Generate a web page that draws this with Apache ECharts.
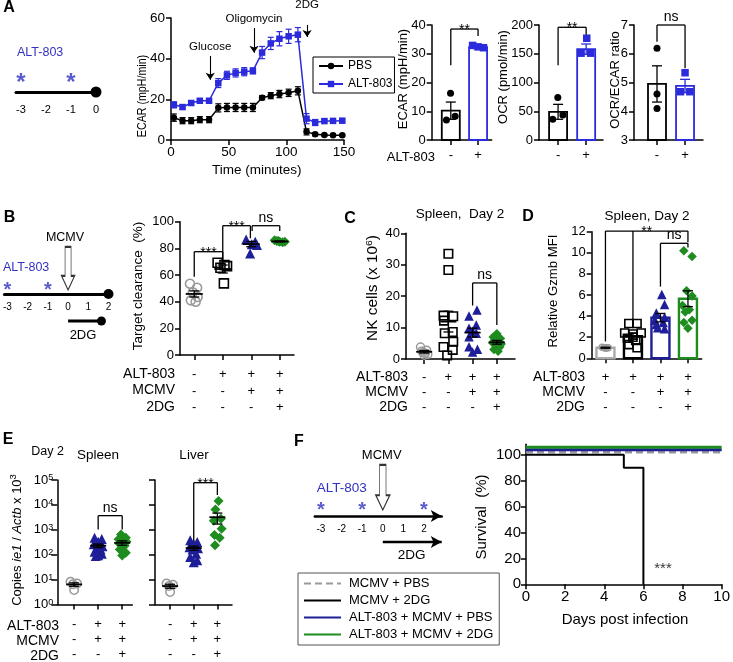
<!DOCTYPE html>
<html><head><meta charset="utf-8"><title>Figure</title>
<script src="https://cdn.jsdelivr.net/npm/echarts@6.0.0/dist/echarts.min.js"></script>
<style>html,body{margin:0;padding:0;background:#fff;}#chart{width:733px;height:662px;}</style>
</head><body><div id="chart"></div>
<script>
// ======================= DATA =======================
// Panel A – dosing schedule
const aScheduleTicks = [-3, -2, -1, 0];
const aDoseDays = [-3, -1];
const aHarvestDay = [0];

// Panel A – ECAR kinetics
const aTime   = [2.5,10,17.5,25,33,41,48.5,56,63.5,71,79,86.5,94,102,110,117.5,125,133,140.5,148.5];
const aPbs    = [11,9.5,9.5,10,10,15.8,16,16,16,16,20.8,21.8,22.6,23.2,24.2,4,2.8,2.4,2.3,2.3];
const aPbsErr = [1.8,1.5,1.5,1.5,1.5,2,2,2,2,2,1,1.5,1.8,1.8,2,1.5,0.8,0.5,0.5,0.5];
const aAlt    = [17.3,16.2,18.2,19.3,19.3,28,31.8,33,33.6,34,43,47.5,49.8,51,51.8,10.5,8.6,9.3,9.4,9.5];
const aAltErr = [1.5,1,1,0.8,0.8,2.2,2,2,2,1.5,3,3,3.5,3.5,3.5,2.5,1.5,1,0.8,0.8];
const aInjName = ['Glucose', 'Oligomycin', '2DG'];
const aInjTime = [34, 72, 118];
const aInjFrom = [41.3, 55.1, 56.6];
const aInjTo   = [29.6, 42.9, 50.7];

// Panel A – endpoint bars
const aGroupX = [1, 2];
const aSign = ['-', '+'];
const ecarMean = [10.2, 32.3], ecarSem = [3.0, 0.5];
const ecarPbsX = [0.99, 0.84, 1.16], ecarPbsY = [16.3, 7.0, 8.3];
const ecarAltX = [1.8, 2.0, 2.2],   ecarAltY = [32.9, 32.4, 32.1];
const ocrMean = [49, 158], ocrSem = [13, 9];
const ocrPbsX = [0.99, 0.81, 1.17], ocrPbsY = [74, 36, 43.5];
const ocrAltX = [2.02, 1.82, 2.16], ocrAltY = [177, 151, 151];
const ratioMean = [4.95, 4.88], ratioSem = [0.63, 0.23];
const ratioPbsX = [1, 1, 1],        ratioPbsY = [6.19, 4.6, 4.1];
const ratioAltX = [2.0, 1.84, 2.17], ratioAltY = [5.34, 4.68, 4.68];
const ecarBrackets  = [{legs: [[1, 26], [2, 36.2]], top: 38.6, text: '**'}];
const ocrBrackets   = [{legs: [[1, 130], [2, 183]], top: 196, text: '**'}];
const ratioBrackets = [{legs: [[1, 6.42], [2, 5.5]], top: 7.0, text: 'ns'}];

// Panel B – schedule
const bScheduleTicks = [-3, -2, -1, 0, 1, 2];
const bDoseDays = [-3, -1];
const bInfectDay = [0];
const bEndDay = [2];
const b2dgDays = [0, 1.65];

// Panel B – target clearance
const bAlt = ['-', '+', '+', '+'], bMcmv = ['-', '-', '+', '+'], b2dg = ['-', '-', '-', '+'];
const bGroupX = [1, 2, 3, 4];
const bPbsX = [0.85, 1.1, 0.95, 1.12, 0.88, 1.05], bPbsY = [53.5, 50.5, 47, 43.5, 41, 40];
const bAltX = [1.82, 2.06, 2.15, 1.92, 2.04],      bAltY = [69.2, 67.5, 66.7, 65.5, 53.7];
const bMcmvX = [2.82, 3.14, 3.02, 2.96, 3.2],      bMcmvY = [86.7, 85, 83, 76.2, 82.5];
const b2dgX = [3.82, 3.9, 4.0, 4.1, 4.18, 3.95],   b2dgY = [86, 85.5, 85, 84.5, 85, 85.5];
const bMean = [45.8, 64.5, 83.2, 85.2], bSem = [2.3, 3.0, 2.0, 0.4];
const bBrackets = [
  {legs: [[1, 58.7], [2, 66.7]], top: 77.5, text: '***'},
  {legs: [[2, 70], [2.97, 87.5]], top: 97, text: '***'},
  {legs: [[3.03, 93], [4, 93]], top: 97, text: 'ns'}
];

// Panel C – NK cells
const cAlt = ['-', '+', '+', '+'], cMcmv = ['-', '-', '+', '+'], c2dg = ['-', '-', '-', '+'];
const cGroupX = [1, 2, 3, 4];
const cPbsX = [0.85, 1.1, 0.95, 1.15, 1.0, 0.9, 1.05], cPbsY = [3.8, 2.8, 2.0, 1.5, 1.2, 2.5, 1.8];
const cAltX = [2.0, 2.0, 1.8, 2.2, 1.82, 2.18, 1.85, 2.2, 1.8, 2.18, 1.95];
const cAltY = [33.5, 28.3, 13.8, 13.6, 12.2, 8.6, 8.2, 5.5, 3.8, 2.9, 1.1];
const cMcmvX = [3.18, 2.85, 3.15, 2.85, 3.0, 3.15, 2.85, 2.85, 3.2, 3.0];
const cMcmvY = [15.6, 13.7, 10.8, 9.8, 8.8, 8.2, 7.1, 3.9, 3.1, 2.2];
const c2dgX = [4.0, 3.85, 4.15, 3.9, 4.1, 3.82, 4.18, 3.95, 4.12, 3.88, 4.05];
const c2dgY = [8.0, 7.0, 6.5, 6.0, 5.6, 5.2, 4.8, 4.5, 3.8, 3.0, 2.5];
const cMean = [2.3, 11.9, 8.4, 5.3], cSem = [0.4, 3.3, 1.4, 0.6];
const cBrackets = [{legs: [[3, 17], [4, 10.8]], top: 24.2, text: 'ns'}];

// Panel D – Gzmb MFI
const dAlt = ['+', '+', '+', '+'], dMcmv = ['-', '-', '+', '+'], d2dg = ['-', '-', '-', '+'];
const dGroupX = [1, 2, 3, 4];
const dMean = [1.0, 2.1, 3.85, 5.65], dSem = [0.05, 0.3, 0.4, 0.75];
const dPbsX = [0.88, 0.95, 1.02, 1.1, 1.0], dPbsY = [1.05, 1.0, 0.95, 1.0, 1.02];
const dAltX = [1.85, 2.15, 1.7, 2.0, 2.3, 1.8, 2.1, 1.85, 2.15, 2.0];
const dAltY = [3.3, 3.3, 2.4, 2.3, 2.4, 1.9, 1.7, 1.3, 1.0, 2.0];
const dMcmvX = [3.05, 3.15, 2.85, 3.15, 2.8, 3.1, 2.85, 2.9, 3.15];
const dMcmvY = [6.05, 5.1, 4.3, 3.9, 3.6, 3.4, 3.2, 2.9, 2.8];
const d2dgX = [3.85, 4.15, 3.95, 4.15, 3.8, 4.05, 3.9, 4.15, 3.85, 4.0];
const d2dgY = [10.2, 9.65, 6.4, 5.9, 5.0, 4.6, 4.4, 3.6, 3.4, 2.85];
const dBrackets = [
  {legs: [[1, 1.6], [2, 3.6], [4, 11.0]], top: 12.06, text: '**', tx: 2.5},
  {legs: [[3, 6.8], [4, 10.5]], top: 10.9, text: 'ns'}
];

// Panel E – viral load (log)
const eAlt = ['-', '+', '+'], eMcmv = ['-', '+', '+'], e2dg = ['-', '-', '+'];
const eGroupX = [1, 2, 3];
const eDecades = [1, 10, 100, 1000, 10000, 100000];
const esPbsX = [0.85, 1.12, 0.95, 1.0],  esPbsY = [8.2, 7.0, 6.5, 3.8];
const esAltX = [1.85, 2.15, 2.0, 1.82, 2.18, 1.95, 2.1, 1.85, 2.15, 2.0, 1.9];
const esAltY = [480, 430, 330, 260, 220, 190, 160, 130, 110, 95, 88];
const es2dgX = [2.95, 3.15, 2.85, 3.18, 2.88, 3.1, 2.9, 3.15, 3.0];
const es2dgY = [650, 480, 420, 330, 280, 230, 160, 120, 92];
const esMean = [6.4, 230, 300], esSem = [1.0, 38, 60];
const esBrackets = [{legs: [[2, 1040], [3, 1040]], top: 3700, text: 'ns'}];
const elPbsX = [0.85, 1.12, 0.95, 1.0], elPbsY = [7.0, 6.2, 5.5, 3.2];
const elAltX = [1.85, 2.15, 2.0, 1.82, 2.18, 1.95, 2.1, 1.85, 2.15, 2.0];
const elAltY = [380, 320, 260, 200, 180, 160, 110, 80, 60, 50];
const el2dgX = [3.05, 2.92, 3.15, 2.85, 3.18, 2.88, 3.1, 2.9];
const el2dgY = [14500, 6500, 2800, 2300, 1100, 620, 480, 240];
const elMean = [5.5, 185, 3200], elSem = [1.0, 35, 1500];
const elBrackets = [{legs: [[2, 355], [3, 25000]], top: 78000, text: '***'}];

// Panel F – schedule
const fScheduleTicks = [-3, -2, -1, 0, 1, 2];
const fDoseDays = [-3, -1, 2];
const fInfectDay = [0];
const f2dgDays = [0, 2.86];

// Panel F – survival (curves drawn offset above 100 % as in the figure)
const fNames = ['MCMV + PBS', 'MCMV + 2DG', 'ALT-803 + MCMV + PBS', 'ALT-803 + MCMV + 2DG'];
const fPbsDays = [0, 10],        fPbsSurv = [101.8, 101.8];
const f2dgDaysS = [0, 5, 6],     f2dgSurv = [100, 90, 0];
const fAltPbsDays = [0, 10],     fAltPbsSurv = [103.8, 103.8];
const fAlt2dgDays = [0, 10],     fAlt2dgSurv = [105.8, 105.8];
const fSurvTicks = [0, 20, 40, 60, 80, 100];

// ======================= BUILD =======================
const FONT = "'Liberation Sans', Arial, Helvetica, sans-serif";
const BLACK = '#000', GREY = '#9a9a9a', NAVY = '#1e1e98', GREEN = '#1f8c1f', BLUE = '#2b2bdc', TLBLUE = '#3232c2';
const chart = echarts.init(document.getElementById('chart'), null, {renderer: 'canvas', width: 733, height: 662});

function merge(a, b) {
  for (const k in b) {
    const v = b[k];
    if (v && typeof v === 'object' && !Array.isArray(v) && typeof v !== 'function' && a[k] && typeof a[k] === 'object' && !Array.isArray(a[k])) merge(a[k], v);
    else a[k] = v;
  }
  return a;
}
const grid = [], xAxis = [], yAxis = [], series = [], graphic = [];
function axisBase(gi) {
  return {gridIndex: gi, type: 'value', splitLine: {show: false}, axisPointer: {show: false},
    axisLine: {show: true, onZero: false, lineStyle: {color: BLACK, width: 1.5}},
    axisTick: {show: true, inside: false, length: 5, lineStyle: {color: BLACK, width: 1.5}},
    axisLabel: {show: true, color: BLACK, fontSize: 13, fontFamily: FONT, margin: 6}};
}
function panel(box, xo, yo) {
  const gi = grid.length;
  grid.push({left: box[0], top: box[1], width: box[2], height: box[3], containLabel: false});
  xAxis.push(merge(axisBase(gi), xo));
  yAxis.push(merge(axisBase(gi), yo));
  return gi;
}
function signAxis(min, max, rows, margin, lh) {
  const vals = rows[0].map((_, i) => i + 1);
  return {min, max, axisTick: {customValues: vals},
    axisLabel: {customValues: vals, margin, lineHeight: lh, fontSize: 13,
      formatter: v => rows.map(r => r[Math.round(v) - 1]).join('\n')}};
}
function dots(gi, xs, ys, symbol, size, fill, stroke, bw) {
  series.push({type: 'scatter', xAxisIndex: gi, yAxisIndex: gi, symbol, symbolSize: size, clip: false, silent: true, z: 3,
    itemStyle: {color: fill, borderColor: stroke, borderWidth: bw, opacity: 1},
    data: xs.map((x, i) => [x, ys[i]])});
}
function errBars(gi, xs, means, sems, colors, meanHalf, capHalf, lw) {
  series.push({type: 'custom', xAxisIndex: gi, yAxisIndex: gi, clip: false, silent: true, z: 5,
    data: xs.map((x, i) => [x, means[i], means[i] - sems[i], means[i] + sems[i]]),
    renderItem: (p, api) => {
      const x = api.value(0);
      const pm = api.coord([x, api.value(1)]), pl = api.coord([x, api.value(2)]), ph = api.coord([x, api.value(3)]);
      const st = {stroke: Array.isArray(colors) ? colors[p.dataIndex] : colors, lineWidth: lw};
      const ch = [
        {type: 'line', shape: {x1: pm[0], y1: pl[1], x2: pm[0], y2: ph[1]}, style: st},
        {type: 'line', shape: {x1: pm[0] - capHalf, y1: pl[1], x2: pm[0] + capHalf, y2: pl[1]}, style: st},
        {type: 'line', shape: {x1: pm[0] - capHalf, y1: ph[1], x2: pm[0] + capHalf, y2: ph[1]}, style: st}];
      if (meanHalf) ch.push({type: 'line', shape: {x1: pm[0] - meanHalf, y1: pm[1], x2: pm[0] + meanHalf, y2: pm[1]}, style: {stroke: st.stroke, lineWidth: lw + 0.5}});
      return {type: 'group', children: ch};
    }});
}
function bars(gi, xs, vals, base, colors, halfW, lw) {
  series.push({type: 'custom', xAxisIndex: gi, yAxisIndex: gi, clip: false, silent: true, z: 2,
    data: xs.map((x, i) => [x, vals[i]]),
    renderItem: (p, api) => {
      const t = api.coord([api.value(0), api.value(1)]), b = api.coord([api.value(0), base]);
      return {type: 'rect', shape: {x: t[0] - halfW, y: t[1], width: 2 * halfW, height: b[1] - t[1]},
        style: {fill: 'rgba(255,255,255,0)', stroke: colors[p.dataIndex], lineWidth: lw}};
    }});
}
function brackets(gi, defs, fs) {
  series.push({type: 'custom', xAxisIndex: gi, yAxisIndex: gi, clip: false, silent: true, z: 6,
    data: defs.map(d => [d.legs[0][0], d.top]),
    renderItem: (p, api) => {
      const d = defs[p.dataIndex];
      const pts = d.legs.map(l => api.coord(l));
      const topY = api.coord([d.legs[0][0], d.top])[1];
      const st = {stroke: BLACK, lineWidth: 1.3};
      const ch = [{type: 'line', shape: {x1: pts[0][0], y1: topY, x2: pts[pts.length - 1][0], y2: topY}, style: st}];
      pts.forEach(pt => ch.push({type: 'line', shape: {x1: pt[0], y1: topY, x2: pt[0], y2: pt[1]}, style: st}));
      const tx = d.tx != null ? api.coord([d.tx, d.top])[0] : (pts[0][0] + pts[pts.length - 1][0]) / 2;
      const star = d.text.indexOf('*') >= 0;
      ch.push({type: 'text', x: tx, y: star ? topY + 1 : topY - 1,
        style: {text: d.text, fill: BLACK, fontSize: fs, fontFamily: FONT, align: 'center', verticalAlign: star ? 'middle' : 'bottom'}});
      return {type: 'group', children: ch};
    }});
}
function stars(gi, xs, y, size, color) {
  series.push({type: 'scatter', xAxisIndex: gi, yAxisIndex: gi, symbolSize: 1, clip: false, silent: true, z: 4,
    itemStyle: {color: 'rgba(0,0,0,0)'},
    label: {show: true, position: 'inside', formatter: '*', fontSize: size, fontWeight: 'bold', color, fontFamily: FONT},
    data: xs.map(x => [x, y])});
}
function note(gi, x, y, text, fs) {
  series.push({type: 'scatter', xAxisIndex: gi, yAxisIndex: gi, symbolSize: 1, clip: false, silent: true, z: 4,
    itemStyle: {color: 'rgba(0,0,0,0)'},
    label: {show: true, position: 'inside', formatter: text, fontSize: fs, color: BLACK, fontFamily: FONT},
    data: [[x, y]]});
}
const ARROW = 'path://M3.5,0L9.5,0L9.5,29L13,29L6.5,43L0,29L3.5,29Z';
function hollowArrow(gi, xs, y, size) {
  series.push({type: 'scatter', xAxisIndex: gi, yAxisIndex: gi, symbol: ARROW, symbolSize: size, clip: false, silent: true, z: 4,
    itemStyle: {color: '#fff', borderColor: BLACK, borderWidth: 1.2}, data: xs.map(x => [x, y])});
}
function txt(text, x, y, o) {
  graphic.push(merge({type: 'text', x, y, silent: true, z: 10,
    style: {text, fill: BLACK, fontSize: 13, fontFamily: FONT, align: 'center', verticalAlign: 'middle'}}, o || {}));
}
function vtxt(text, x, y, fs, sx, rich) {
  const st = {text, fill: BLACK, fontSize: fs, fontFamily: FONT, align: 'center', verticalAlign: 'middle'};
  if (rich) st.rich = rich;
  graphic.push({type: 'text', x, y, rotation: Math.PI / 2, scaleX: sx || 1, silent: true, z: 10, style: st});
}
// schedule panels: axis line at the grid bottom (value 0); items below it use negative values
const timelineY = {min: 0, max: 1, show: false, axisLine: {show: false}, axisTick: {show: false}, axisLabel: {show: false}};

// ---------- Panel A: schedule ----------
const gA0 = panel([16, 62, 80, 30],
  {min: -3.2, max: 0, axisLine: {lineStyle: {width: 3}}, axisTick: {show: false},
   axisLabel: {customValues: aScheduleTicks, fontSize: 11, margin: 12}}, timelineY);
stars(gA0, aDoseDays, 0.3, 24, TLBLUE);
dots(gA0, aHarvestDay, [0], 'circle', 11, BLACK, BLACK, 0);

// ---------- Panel A: ECAR kinetics ----------
const gA1 = panel([171, 18, 173, 122],
  {min: 0, max: 150, interval: 50, axisLabel: {fontSize: 13.5, margin: 5}},
  {min: 0, max: 60, interval: 20, axisLabel: {fontSize: 13.5, margin: 6}});
errBars(gA1, aTime, aPbs, aPbsErr, BLACK, 0, 3, 1.2);
errBars(gA1, aTime, aAlt, aAltErr, BLUE, 0, 3, 1.2);
series.push({type: 'line', name: 'PBS', xAxisIndex: gA1, yAxisIndex: gA1, symbol: 'circle', symbolSize: 6.5, z: 4,
  lineStyle: {color: BLACK, width: 1.5}, itemStyle: {color: BLACK},
  data: aTime.map((t, i) => [t, aPbs[i]]),
  markLine: {silent: true, animation: false, symbol: ['none', 'arrow'], symbolSize: 7, precision: 2,
    lineStyle: {color: BLACK, width: 1.1, type: 'solid'},
    label: {show: true, position: 'start', formatter: '{b}', fontSize: 11.5, color: BLACK, fontFamily: FONT, distance: 3},
    data: aInjName.map((n, i) => [{name: n, coord: [aInjTime[i], aInjFrom[i]], label: {distance: i === 2 ? 14 : 3}}, {coord: [aInjTime[i], aInjTo[i]]}])}});
series.push({type: 'line', name: 'ALT-803', xAxisIndex: gA1, yAxisIndex: gA1, symbol: 'rect', symbolSize: 6.5, z: 4,
  lineStyle: {color: BLUE, width: 1.5}, itemStyle: {color: BLUE},
  data: aTime.map((t, i) => [t, aAlt[i]])});

// ---------- Panel A: bars ----------
function aBarPanel(box, xmin, xmax, ymin, ymax, yint, mean, sem, px, py, qx, qy, br) {
  const g = panel(box,
    {min: xmin, max: xmax, axisTick: {customValues: aGroupX},
     axisLabel: {customValues: aGroupX, margin: 9, formatter: v => aSign[Math.round(v) - 1]}},
    {min: ymin, max: ymax, interval: yint, axisLabel: {margin: 6}});
  bars(g, aGroupX, mean, ymin, [BLACK, BLUE], 9, 1.8);
  dots(g, px, py, 'circle', 7, BLACK, BLACK, 0);
  dots(g, qx, qy, 'rect', 7.5, BLUE, BLUE, 0);
  errBars(g, aGroupX, mean, sem, [BLACK, BLUE], 0, 5, 1.3);
  brackets(g, br, 14);
  return g;
}
aBarPanel([431.7, 25, 60, 115], 0.3, 2.5, 0, 40, 10, ecarMean, ecarSem, ecarPbsX, ecarPbsY, ecarAltX, ecarAltY, ecarBrackets);
aBarPanel([539, 25, 64, 115], 0.32, 2.6, 0, 200, 50, ocrMean, ocrSem, ocrPbsX, ocrPbsY, ocrAltX, ocrAltY, ocrBrackets);
aBarPanel([634, 25, 69, 115], 0.18, 2.64, 3, 7, 1, ratioMean, ratioSem, ratioPbsX, ratioPbsY, ratioAltX, ratioAltY, ratioBrackets);

// ---------- Panel B: schedule ----------
const gB0 = panel([3, 267, 105.5, 27],
  {min: -3.15, max: 2, axisLine: {lineStyle: {width: 3}}, axisTick: {show: false},
   axisLabel: {customValues: bScheduleTicks, fontSize: 10, margin: 8}}, timelineY);
stars(gB0, bDoseDays, 0.12, 20, TLBLUE);
dots(gB0, bEndDay, [0], 'circle', 10, BLACK, BLACK, 0);
hollowArrow(gB0, bInfectDay, 0.95, [13, 43]);
series.push({type: 'line', xAxisIndex: gB0, yAxisIndex: gB0, silent: true, clip: false, z: 3, lineStyle: {color: BLACK, width: 3},
  itemStyle: {color: BLACK}, symbol: 'circle', symbolSize: 9,
  data: [{value: [b2dgDays[0], -1], symbol: 'none'}, {value: [b2dgDays[1], -1]}]});

// ---------- Panel B: target clearance ----------
const gB1 = panel([180, 221.7, 114, 133.3], signAxis(0.5, 4.5, [bAlt, bMcmv, b2dg], 11.5, 16.5),
  {min: 0, max: 100, interval: 20});
dots(gB1, bPbsX, bPbsY, 'circle', 9, 'rgba(0,0,0,0)', GREY, 1.6);
dots(gB1, bAltX, bAltY, 'rect', 9, 'rgba(0,0,0,0)', BLACK, 1.6);
dots(gB1, bMcmvX, bMcmvY, 'triangle', 10, NAVY, NAVY, 0);
dots(gB1, b2dgX, b2dgY, 'diamond', 10, GREEN, GREEN, 0);
errBars(gB1, bGroupX, bMean, bSem, BLACK, 8.5, 5, 1.3);
brackets(gB1, bBrackets, 14);

// ---------- Panel C ----------
const gC = panel([406, 233.3, 109, 125.7], signAxis(0.25, 4.75, [cAlt, cMcmv, c2dg], 11, 15),
  {min: 0, max: 40, interval: 10});
dots(gC, cPbsX, cPbsY, 'circle', 8, 'rgba(0,0,0,0)', GREY, 1.5);
dots(gC, cAltX, cAltY, 'rect', 8.5, 'rgba(0,0,0,0)', BLACK, 1.6);
dots(gC, cMcmvX, cMcmvY, 'triangle', 9.5, NAVY, NAVY, 0);
dots(gC, c2dgX, c2dgY, 'diamond', 9.5, GREEN, GREEN, 0);
errBars(gC, cGroupX, cMean, cSem, BLACK, 8, 5, 1.3);
brackets(gC, cBrackets, 14);

// ---------- Panel D ----------
const gD = panel([591.7, 231.7, 110, 126.6], signAxis(0.5, 4.5, [dAlt, dMcmv, d2dg], 11.5, 15),
  {min: 0, max: 12, interval: 2});
bars(gD, dGroupX, dMean, 0, ['#aaaaaa', BLACK, NAVY, GREEN], 9, 2.4);
dots(gD, dPbsX, dPbsY, 'circle', 6, 'rgba(0,0,0,0)', GREY, 1.3);
dots(gD, dAltX, dAltY, 'rect', 8, 'rgba(0,0,0,0)', BLACK, 1.6);
dots(gD, dMcmvX, dMcmvY, 'triangle', 9.5, NAVY, NAVY, 0);
dots(gD, d2dgX, d2dgY, 'diamond', 9.5, GREEN, GREEN, 0);
errBars(gD, dGroupX, dMean, dSem, BLACK, 0, 5, 1.3);
brackets(gD, dBrackets, 14);

// ---------- Panel E ----------
function logY(showLabels) {
  return {type: 'log', logBase: 10, min: 1, max: 100000,
    axisTick: {customValues: eDecades, length: 6},
    axisLabel: {show: showLabels, customValues: eDecades, margin: 4,
      formatter: v => '{b|10}{s|' + Math.round(Math.log10(v)) + '}',
      rich: {b: {fontSize: 13, fontFamily: FONT, color: BLACK}, s: {fontSize: 9, fontFamily: FONT, color: BLACK, verticalAlign: 'top'}}}};
}
function ePanel(box, xmin, xmax, showLabels, px, py, ax, ay, gx, gy, mean, sem, br) {
  const g = panel(box, signAxis(xmin, xmax, [eAlt, eMcmv, e2dg], 12.5, 15), logY(showLabels));
  dots(g, px, py, 'circle', 8.5, 'rgba(0,0,0,0)', GREY, 1.5);
  dots(g, ax, ay, 'triangle', 10, NAVY, NAVY, 0);
  dots(g, gx, gy, 'diamond', 10, GREEN, GREEN, 0);
  errBars(g, eGroupX, mean, sem, BLACK, 8, 5, 1.3);
  brackets(g, br, 14);
}
ePanel([57.3, 480, 75, 126], 0.3, 3.42, true, esPbsX, esPbsY, esAltX, esAltY, es2dgX, es2dgY, esMean, esSem, esBrackets);
ePanel([155, 480, 77, 126], 0.36, 3.62, false, elPbsX, elPbsY, elAltX, elAltY, el2dgX, el2dgY, elMean, elSem, elBrackets);

// ---------- Panel F: schedule ----------
const gF0 = panel([314.8, 490, 126.9, 26],
  {min: -3.3, max: 2.86, axisLine: {lineStyle: {width: 2.5}, symbol: ['none', 'arrow'], symbolSize: [9, 11]},
   axisTick: {show: false}, axisLabel: {customValues: fScheduleTicks, fontSize: 10, margin: 8}}, timelineY);
stars(gF0, fDoseDays, 0.2, 20, TLBLUE);
hollowArrow(gF0, fInfectDay, 1.1, [14, 45]);
series.push({type: 'line', xAxisIndex: gF0, yAxisIndex: gF0, silent: true, clip: false, z: 3, lineStyle: {color: BLACK, width: 2.5},
  itemStyle: {color: BLACK}, symbol: 'arrow', symbolSize: [9, 11], symbolRotate: -90,
  data: [{value: [f2dgDays[0], -1], symbol: 'none'}, {value: [f2dgDays[1], -1]}]});

// ---------- Panel F: survival ----------
const gF1 = panel([526, 444.3, 198, 140],
  {min: 0, max: 10, interval: 2, axisLabel: {fontSize: 15, margin: 5}},
  {min: 0, max: 108, interval: 20, axisTick: {customValues: fSurvTicks}, axisLabel: {customValues: fSurvTicks, fontSize: 15, margin: 5}});
function surv(name, xs, ys, color, width, type, z) {
  series.push({type: 'line', name, xAxisIndex: gF1, yAxisIndex: gF1, step: 'end', symbol: 'none', showSymbol: false, clip: false, z,
    lineStyle: {color, width, type}, itemStyle: {color}, data: xs.map((x, i) => [x, ys[i]])});
}
surv(fNames[0], fPbsDays, fPbsSurv, GREY, 2.5, [7, 4], 3);
surv(fNames[1], f2dgDaysS, f2dgSurv, BLACK, 2, 'solid', 3);
surv(fNames[2], fAltPbsDays, fAltPbsSurv, NAVY, 3, 'solid', 3);
surv(fNames[3], fAlt2dgDays, fAlt2dgSurv, GREEN, 3, 'solid', 3);
note(gF1, 7.0, 12, '***', 15);

// ---------- Texts ----------
const BOLD = {style: {fontWeight: 'bold', fontSize: 16}};
const SUP = {fontSize: 9.5, fontFamily: FONT, fill: BLACK, verticalAlign: 'top', padding: [0, 0, 8, 0]};
txt('A', 9, 8, BOLD); txt('B', 9.5, 218, BOLD); txt('C', 350, 219, BOLD);
txt('D', 528, 217, BOLD); txt('E', 8, 440, BOLD); txt('F', 299, 442, BOLD);
// A
txt('ALT-803', 17, 53, {style: {align: 'left', fill: TLBLUE, fontSize: 12.5}});
vtxt('ECAR (mpH/min)', 142, 96, 13, 0.82);
txt('Time (minutes)', 256.7, 170, {style: {fontSize: 13.5}});
vtxt('ECAR (mpH/min)', 403, 79, 13);
vtxt('OCR (pmol/min)', 503, 77, 13);
vtxt('OCR/ECAR ratio', 615.7, 80, 13);
txt('ALT-803', 435, 157, {style: {align: 'right'}});
// B
txt('MCMV', 65, 238, {style: {fontSize: 12.5}});
txt('ALT-803', 3, 268, {style: {align: 'left', fill: TLBLUE, fontSize: 12.5}});
txt('2DG', 83, 335);
vtxt('Target clearance  (%)', 138, 286, 13.5);
['ALT-803', 'MCMV', '2DG'].forEach((t, i) => txt(t, 175, 374 + i * 16.5, {style: {align: 'right', fontSize: 14}}));
// C
txt('Spleen,  Day 2', 460, 214, {style: {fontSize: 13.5}});
vtxt('NK cells (x 10{sup|6})', 373, 288, 14, 1.1, {sup: SUP});
['ALT-803', 'MCMV', '2DG'].forEach((t, i) => txt(t, 408, 377.5 + i * 15, {style: {align: 'right', fontSize: 14}}));
// D
txt('Spleen, Day 2', 647, 216, {style: {fontSize: 13.5}});
vtxt('Relative Gzmb MFI', 553, 291, 13.2);
['ALT-803', 'MCMV', '2DG'].forEach((t, i) => txt(t, 585, 377.5 + i * 15, {style: {align: 'right', fontSize: 14}}));
// E
txt('Day 2', 47.5, 452, {style: {fontSize: 12.5}});
txt('Spleen', 98, 455, {style: {fontSize: 13.5}});
txt('Liver', 194, 455, {style: {fontSize: 13.5}});
vtxt('Copies {it|ie1} / {it|Actb} x 10{sup|3}', 17, 540, 13, 1,
  {it: {fontStyle: 'italic', fontSize: 13, fontFamily: FONT, fill: BLACK}, sup: SUP});
['ALT-803', 'MCMV', '2DG'].forEach((t, i) => txt(t, 59, 626 + i * 15, {style: {align: 'right', fontSize: 14}}));
// F
txt('MCMV', 381.7, 455);
txt('ALT-803', 341.7, 488, {style: {fill: TLBLUE, fontSize: 13.5}});
txt('2DG', 411.7, 555, {style: {fontSize: 13.5}});
vtxt('Survival  (%)', 481.7, 517, 15);
txt('Days post infection', 625, 620, {style: {fontSize: 15}});

chart.setOption({
  animation: false,
  backgroundColor: '#fff',
  textStyle: {fontFamily: FONT},
  grid, xAxis, yAxis, series, graphic,
  legend: [
    {data: ['PBS', 'ALT-803'], left: 313, top: 57, orient: 'vertical', selectedMode: false,
     itemWidth: 24, itemHeight: 8, itemGap: 6, padding: [3, 2, 3, 5], borderColor: BLACK, borderWidth: 1,
     textStyle: {fontSize: 12, color: BLACK, fontFamily: FONT}},
    {data: fNames, left: 298, top: 573, orient: 'vertical', selectedMode: false,
     itemWidth: 37, itemHeight: 14, itemGap: 4, padding: [4, 6, 4, 5], borderColor: '#555', borderWidth: 1,
     itemStyle: {color: 'rgba(0,0,0,0)', borderWidth: 0, opacity: 0},
     textStyle: {fontSize: 13, color: BLACK, fontFamily: FONT, padding: [0, 0, 0, 3]}}
  ]
});
</script></body></html>
